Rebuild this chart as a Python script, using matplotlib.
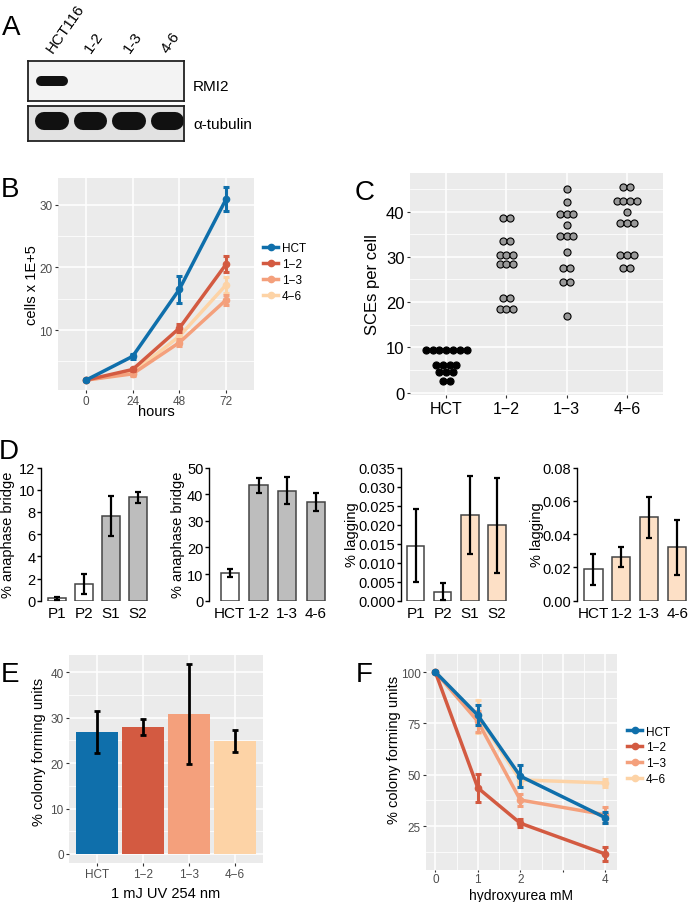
import numpy as np
import matplotlib
matplotlib.use("Agg")
import matplotlib.pyplot as plt
from matplotlib.lines import Line2D
from matplotlib.ticker import FormatStrFormatter

W, H, DPI = 688, 903, 100
plt.rcParams["font.family"] = ["Liberation Sans", "DejaVu Sans"]

# ---------------------------------------------------------------- data
BLOT_LANES = ["HCT116", "1-2", "1-3", "4-6"]
RMI2_SIGNAL = [1.0, 0.0, 0.0, 0.0]
TUBULIN_SIGNAL = [1.0, 1.0, 1.0, 1.0]

CLONES = ["HCT", "1\u22122", "1\u22123", "4\u22126"]
CLONE_COLORS = ["#0f6fab", "#d35a41", "#f4a07c", "#fdd3a6"]

# B: growth curves
HOURS = ["0", "24", "48", "72"]
CELLS = {
    "HCT": [2.0, 5.8, 16.5, 30.9],
    "1-2": [2.0, 3.7, 10.3, 20.5],
    "1-3": [2.0, 3.0, 8.0, 14.8],
    "4-6": [2.0, 3.2, 9.0, 17.2],
}
CELLS_ERR = {
    "HCT": [0.2, 0.4, 2.2, 1.9],
    "1-2": [0.2, 0.3, 0.6, 1.3],
    "1-3": [0.2, 0.3, 0.5, 0.8],
    "4-6": [0.2, 0.3, 0.6, 1.2],
}

# C: SCEs per cell (one value per cell)
SCE_HCT = [9.5, 9.5, 9.5, 9.5, 9.5, 9.5, 9.5, 6.1, 6.1, 6.1, 6.1, 4.5, 4.5, 4.5, 2.5, 2.5]
SCE_12 = [38.5, 38.5, 33.6, 33.6, 30.5, 30.5, 30.5, 28.4, 28.4, 28.4, 21.0, 21.0, 18.5, 18.5, 18.5]
SCE_13 = [45.0, 42.0, 39.5, 39.5, 39.5, 37.0, 34.5, 34.5, 34.5, 31.0, 27.5, 27.5, 24.5, 24.5, 17.0]
SCE_46 = [45.5, 45.5, 42.4, 42.4, 42.4, 42.4, 40.0, 37.5, 37.5, 37.5, 30.5, 30.5, 30.5, 27.5, 27.5]

# D: anaphase bridges / lagging chromosomes
PATIENT_CATS = ["P1", "P2", "S1", "S2"]
CLONE_CATS = ["HCT", "1-2", "1-3", "4-6"]
BRIDGE_PAT = [0.2, 1.5, 7.6, 9.3]
BRIDGE_PAT_ERR = [0.15, 0.9, 1.8, 0.5]
BRIDGE_CLONE = [10.5, 43.3, 41.3, 37.1]
BRIDGE_CLONE_ERR = [1.5, 2.8, 5.0, 3.3]
LAG_PAT = [0.0145, 0.0024, 0.0225, 0.0198]
LAG_PAT_ERR = [0.0095, 0.0023, 0.0102, 0.0125]
LAG_CLONE = [0.0188, 0.026, 0.050, 0.032]
LAG_CLONE_ERR = [0.0095, 0.006, 0.0125, 0.0165]

# E: UV survival
UV_CFU = [26.9, 27.9, 30.9, 24.9]
UV_CFU_ERR = [4.6, 1.8, 11.0, 2.4]

# F: hydroxyurea survival
HU_DOSE = [0, 1, 2, 4]
HU_CFU = {
    "HCT": [100, 79.0, 49.3, 29.1],
    "1-2": [100, 43.6, 26.4, 11.4],
    "1-3": [100, 76.0, 37.7, 30.5],
    "4-6": [100, 78.5, 47.5, 46.0],
}
HU_CFU_ERR = {
    "HCT": [0.5, 5.0, 5.5, 2.8],
    "1-2": [0.5, 6.8, 2.0, 3.2],
    "1-3": [0.5, 5.0, 3.0, 4.0],
    "4-6": [0.5, 8.0, 2.0, 1.8],
}

# ---------------------------------------------------------------- helpers
fig = plt.figure(figsize=(W / DPI, H / DPI), dpi=DPI)


def px_axes(left, top, right, bottom):
    return fig.add_axes([left / W, 1 - bottom / H, (right - left) / W, (bottom - top) / H])


def px_text(x, y, s, **kw):
    kw.setdefault("ha", "center")
    kw.setdefault("va", "center")
    return fig.text(x / W, 1 - y / H, s, **kw)


def gg_style(ax, labelsize=8.5, labelcolor="#4d4d4d"):
    ax.set_facecolor("#ebebeb")
    for s in ax.spines.values():
        s.set_visible(False)
    ax.set_axisbelow(True)
    ax.grid(which="major", color="white", lw=1.1)
    ax.grid(which="minor", color="white", lw=0.55)
    ax.tick_params(which="major", length=2, width=0.8, color="#333333",
                   labelcolor=labelcolor, labelsize=labelsize, pad=2)
    ax.tick_params(which="minor", length=0)


def prism_bars(ax, cats, vals, errs, fills, ymax, ystep, fmt):
    x = np.arange(1, len(cats) + 1)
    ax.bar(x, vals, width=0.65, color=fills, edgecolor="#444444", lw=1.1, zorder=2)
    ax.errorbar(x, vals, yerr=errs, fmt="none", ecolor="black", elinewidth=1.6,
                capsize=2.2, capthick=1.6, zorder=3)
    ax.set_ylim(0, ymax)
    ax.set_yticks(np.arange(0, ymax + ystep / 2, ystep))
    ax.yaxis.set_major_formatter(FormatStrFormatter(fmt))
    ax.set_xticks(x)
    ax.set_xticklabels(cats)
    for side in ("top", "right", "bottom"):
        ax.spines[side].set_visible(False)
    ax.spines["left"].set_linewidth(1.0)
    ax.tick_params(axis="y", length=3, width=1.0, labelsize=10.5, pad=1)
    ax.tick_params(axis="x", length=0, labelsize=11, pad=4)


legend_handles = [Line2D([], [], color=c, lw=2.5, marker="o", ms=4.5) for c in CLONE_COLORS]

# ---------------------------------------------------------------- A: western blot
for label, (x, y) in zip("ABCDEF", [(11, 28), (10, 190), (365, 193), (9, 452), (10, 675), (364, 675)]):
    px_text(x, y, label, fontsize=20)

ax_r = px_axes(28, 62, 184, 102)
ax_t = px_axes(28, 107, 184, 142)
for ax, sig, bg, yc, lw, half in [(ax_r, RMI2_SIGNAL, "#f3f3f3", 0.5, 7.2, 0.29),
                                   (ax_t, TUBULIN_SIGNAL, "#e2e2e2", 0.56, 13.0, 0.2)]:
    ax.set_facecolor(bg)
    ax.set_xlim(0.38, 4.43)
    ax.set_ylim(0, 1)
    ax.set_xticks([])
    ax.set_yticks([])
    for s in ax.spines.values():
        s.set_linewidth(1.3)
        s.set_color("#222222")
    for i, v in enumerate(sig):
        if v > 0:
            ax.plot([i + 1 - half, i + 1 + half], [yc, yc], color="#111111", alpha=v,
                    lw=lw, solid_capstyle="round")
for i, lane in enumerate(BLOT_LANES):
    ax_r.text(i + 1 + 0.08, 1.16, lane, transform=ax_r.get_xaxis_transform(),
              rotation=55, rotation_mode="anchor", ha="left", va="bottom", fontsize=11)
px_text(193, 87, "RMI2", ha="left", fontsize=11)
px_text(193, 125, "\u03b1-tubulin", ha="left", fontsize=11)

# ---------------------------------------------------------------- B: growth
ax_b = px_axes(58, 179, 254, 391)
gg_style(ax_b)
xb = np.arange(1, 5)
for key, col, z in reversed(list(zip(CELLS.keys(), CLONE_COLORS, [8, 7, 6, 5]))):
    ax_b.errorbar(xb, CELLS[key], yerr=CELLS_ERR[key], color=col, lw=2.5, marker="o", ms=4.5,
                  elinewidth=2.2, capsize=2.5, capthick=2.2, zorder=z)
ax_b.set_xlim(0.4, 4.6)
ax_b.set_ylim(0.42, 34.3)
ax_b.set_xticks(xb)
ax_b.set_xticklabels(HOURS)
ax_b.tick_params(axis="x", pad=1.5)
ax_b.set_yticks([10, 20, 30])
ax_b.set_yticks([5, 15, 25], minor=True)
ax_b.set_xticks([], minor=True)
px_text(32, 285, "cells x 1E+5", rotation=90, fontsize=10.5)
px_text(156, 412, "hours", fontsize=10.5)
ax_b.legend(legend_handles, CLONES, loc="upper left", bbox_to_anchor=(263 / W, 1 - 243.5 / H),
            bbox_transform=fig.transFigure, frameon=False, fontsize=8.5, handlelength=1.3,
            handletextpad=0.3, labelspacing=0.32, borderpad=0, borderaxespad=0)

# ---------------------------------------------------------------- C: SCE dotplot
ax_c = px_axes(410, 174, 663, 396)
gg_style(ax_c, labelsize=12, labelcolor="black")
ax_c.tick_params(axis="x", labelsize=11.5)
DOT_STEP = 0.113
for i, (vals, fill) in enumerate(zip([SCE_HCT, SCE_12, SCE_13, SCE_46],
                                     ["black", "#999999", "#999999", "#999999"])):
    uniq, counts = np.unique(vals, return_counts=True)
    for v, n in zip(uniq, counts):
        xs = i + 1 + (np.arange(n) - (n - 1) / 2) * DOT_STEP
        ax_c.scatter(xs, np.full(n, v), s=26, color=fill, edgecolors="black", linewidths=0.8,
                     zorder=3)
ax_c.set_xlim(0.4, 4.6)
ax_c.set_ylim(-0.5, 48.5)
ax_c.set_xticks(np.arange(1, 5))
ax_c.set_xticklabels(CLONES)
ax_c.set_yticks([0, 10, 20, 30, 40])
ax_c.set_yticks([5, 15, 25, 35, 45], minor=True)
ax_c.set_xticks([], minor=True)
px_text(373, 285, "SCEs per cell", rotation=90, fontsize=12)

# ---------------------------------------------------------------- D: bar panels
gray, peach = "#bdbdbd", "#fde0c6"
d_specs = [
    ((41, 154), (0.4, 4.6), PATIENT_CATS, BRIDGE_PAT, BRIDGE_PAT_ERR,
     ["white", "white", gray, gray], 12, 2, "%d", "% anaphase bridge", 8),
    ((209, 333), (0.27, 4.6), CLONE_CATS, BRIDGE_CLONE, BRIDGE_CLONE_ERR,
     ["white", gray, gray, gray], 50, 10, "%d", "% anaphase bridge", 178),
    ((401, 513), (0.46, 4.6), PATIENT_CATS, LAG_PAT, LAG_PAT_ERR,
     ["white", "white", peach, peach], 0.035, 0.005, "%.3f", "% lagging", 352),
    ((577, 694), (0.41, 4.6), CLONE_CATS, LAG_CLONE, LAG_CLONE_ERR,
     ["white", peach, peach, peach], 0.08, 0.02, "%.2f", "% lagging", 537),
]
for (l, r), xl, cats, vals, errs, fills, ymax, ystep, fmt, ylab, lx in d_specs:
    ax = px_axes(l, 468.5, r, 601.7)
    prism_bars(ax, cats, vals, errs, fills, ymax, ystep, fmt)
    ax.set_xlim(*xl)
    ax.patch.set_alpha(0)
    px_text(lx, 535, ylab, rotation=90, fontsize=10.5)

# ---------------------------------------------------------------- E: UV survival
ax_e = px_axes(69.3, 655.7, 262.7, 864)
gg_style(ax_e)
xe = np.arange(1, 5)
ax_e.bar(xe, UV_CFU, width=0.9, color=CLONE_COLORS, zorder=2)
ax_e.errorbar(xe, UV_CFU, yerr=UV_CFU_ERR, fmt="none", ecolor="black", elinewidth=2,
              capsize=2.2, capthick=2, zorder=3)
ax_e.set_xlim(0.4, 4.6)
ax_e.set_ylim(-2.0, 43.9)
ax_e.set_xticks(xe)
ax_e.set_xticklabels(CLONES)
ax_e.tick_params(axis="x", pad=1.5)
ax_e.set_yticks([0, 10, 20, 30, 40])
ax_e.set_yticks([5, 15, 25, 35], minor=True)
ax_e.set_xticks([], minor=True)
px_text(39, 752, "% colony forming units", rotation=90, fontsize=10.5)
px_text(166, 894, "1 mJ UV 254 nm", fontsize=10.5)

# ---------------------------------------------------------------- F: hydroxyurea
ax_f = px_axes(426, 655, 616.7, 871)
gg_style(ax_f)
for key, col, z in reversed(list(zip(HU_CFU.keys(), CLONE_COLORS, [8, 7, 6, 5]))):
    ax_f.errorbar(HU_DOSE, HU_CFU[key], yerr=HU_CFU_ERR[key], color=col, lw=2.5, marker="o",
                  ms=4.5, elinewidth=2.2, capsize=2.5, capthick=2.2, zorder=z)
ax_f.set_xlim(-0.22, 4.27)
ax_f.set_ylim(3.6, 108.8)
ax_f.set_xticks([0, 1, 2, 3, 4])
ax_f.set_xticklabels(["0", "1", "2", "", "4"])
ax_f.tick_params(axis="x", pad=0.5, length=1.5)
ax_f.set_xticks([0.5, 1.5, 2.5, 3.5], minor=True)
ax_f.set_yticks([25, 50, 75, 100])
ax_f.set_yticks([12.5, 37.5, 62.5, 87.5], minor=True)
px_text(394, 750, "% colony forming units", rotation=90, fontsize=10.5)
px_text(521, 896.5, "hydroxyurea mM", fontsize=10)
ax_f.legend(legend_handles, CLONES, loc="upper left", bbox_to_anchor=(627 / W, 1 - 726.5 / H),
            bbox_transform=fig.transFigure, frameon=False, fontsize=8.5, handlelength=1.3,
            handletextpad=0.3, labelspacing=0.32, borderpad=0, borderaxespad=0)

fig.savefig("out.png", dpi=DPI)
